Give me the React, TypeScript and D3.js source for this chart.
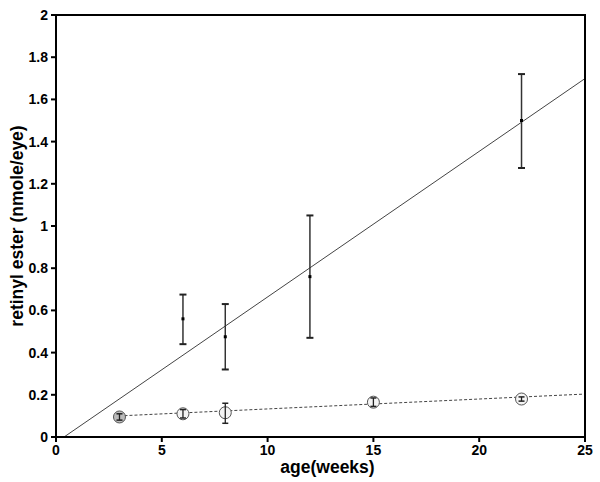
import React from "react";
import * as d3 from "d3";

const ageA = [6, 8, 12, 22];
const meanA = [0.56, 0.475, 0.76, 1.5];
const lowA = [0.44, 0.32, 0.47, 1.275];
const highA = [0.675, 0.63, 1.05, 1.72];

const ageB = [3, 6, 8, 15, 22];
const meanB = [0.095, 0.11, 0.115, 0.165, 0.18];
const lowB = [0.08, 0.09, 0.065, 0.145, 0.17];
const highB = [0.11, 0.13, 0.16, 0.185, 0.19];

const fitA = { x0: 0.38, x1: 25, slope: 0.069 };
const fitB = { x0: 3, x1: 25, intercept: 0.086, slope: 0.0047 };

const xTicks = [0, 5, 10, 15, 20, 25];
const yTicks = [0, 0.2, 0.4, 0.6, 0.8, 1, 1.2, 1.4, 1.6, 1.8, 2];

export default function App() {
  const W = 600, H = 482;
  const L = 56, R = 585, T = 15, B = 437;
  const x = d3.scaleLinear().domain([0, 25]).range([L, R]);
  const y = d3.scaleLinear().domain([0, 2]).range([B, T]);
  const font = "'Liberation Sans', Arial, sans-serif";
  const fa = (v: number) => fitA.slope * (v - fitA.x0);
  const fb = (v: number) => fitB.intercept + fitB.slope * v;
  return (
    <svg width={W} height={H} style={{ position: "absolute", left: 0, top: 0 }}>
      <rect width={W} height={H} fill="#fff" />
      <line x1={x(fitA.x0)} y1={y(fa(fitA.x0))} x2={x(fitA.x1)} y2={y(fa(fitA.x1))} stroke="#444" strokeWidth={1} />
      <line x1={x(fitB.x0)} y1={y(fb(fitB.x0))} x2={x(fitB.x1)} y2={y(fb(fitB.x1))} stroke="#444" strokeWidth={1} strokeDasharray="3,2" />
      {ageB.map((a, i) => (
        <g key={"b" + i}>
          <circle cx={x(a)} cy={y(meanB[i])} r={6} fill={i === 0 ? "#bbb" : "#f4f4f4"} stroke="#555" strokeWidth={1} />
          <line x1={x(a)} x2={x(a)} y1={y(lowB[i])} y2={y(highB[i])} stroke="#222" strokeWidth={1.3} />
          <line x1={x(a) - 3} x2={x(a) + 3} y1={y(lowB[i])} y2={y(lowB[i])} stroke="#222" strokeWidth={1.5} />
          <line x1={x(a) - 3} x2={x(a) + 3} y1={y(highB[i])} y2={y(highB[i])} stroke="#222" strokeWidth={1.5} />
        </g>
      ))}
      {ageA.map((a, i) => (
        <g key={"a" + i}>
          <line x1={x(a)} x2={x(a)} y1={y(lowA[i])} y2={y(highA[i])} stroke="#333" strokeWidth={1.5} />
          <line x1={x(a) - 3.5} x2={x(a) + 3.5} y1={y(lowA[i])} y2={y(lowA[i])} stroke="#222" strokeWidth={2} />
          <line x1={x(a) - 3.5} x2={x(a) + 3.5} y1={y(highA[i])} y2={y(highA[i])} stroke="#222" strokeWidth={2} />
          <rect x={x(a) - 1.5} y={y(meanA[i]) - 1.5} width={3} height={3} fill="#000" />
        </g>
      ))}
      <rect x={L} y={T} width={R - L} height={B - T} fill="none" stroke="#000" strokeWidth={2} />
      {xTicks.map((t) => (
        <g key={"x" + t}>
          <line x1={x(t)} x2={x(t)} y1={B} y2={B + 5} stroke="#000" strokeWidth={2} />
          <text x={x(t)} y={B + 18} textAnchor="middle" fontFamily={font} fontWeight="bold" fontSize={14} fill="#000">{t}</text>
        </g>
      ))}
      {yTicks.map((t) => (
        <g key={"y" + t}>
          <line x1={L - 5} x2={L} y1={y(t)} y2={y(t)} stroke="#000" strokeWidth={2} />
          <text x={L - 8} y={y(t) + 5} textAnchor="end" fontFamily={font} fontWeight="bold" fontSize={14} fill="#000">{t}</text>
        </g>
      ))}
      <text x={(L + R) / 2 + 7} y={473} textAnchor="middle" fontFamily={font} fontWeight="bold" fontSize={17.5} fill="#000">age(weeks)</text>
      <text transform={`translate(23,${(T + B) / 2}) rotate(-90)`} textAnchor="middle" fontFamily={font} fontWeight="bold" fontSize={17.5} fill="#000">retinyl ester (nmole/eye)</text>
    </svg>
  );
}
